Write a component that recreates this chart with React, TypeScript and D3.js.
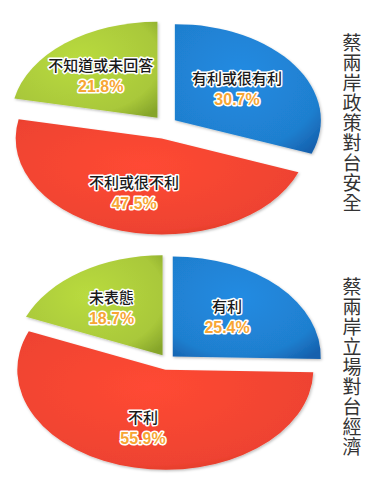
import React from "react";
import * as d3 from "d3";

const TOP_LABELS = ["有利或很有利", "不利或很不利", "不知道或未回答"];
const TOP_VALUES = [30.7, 47.5, 21.8];
const BOTTOM_LABELS = ["有利", "不利", "未表態"];
const BOTTOM_VALUES = [25.4, 55.9, 18.7];
const SLICE_COLORS = ["#1f7fcf", "#ee4330", "#a9c83a"];
const DARK_COLORS = ["#1560ad", "#c9301f", "#86a52a"];
const TITLES = ["蔡兩岸政策對台安全", "蔡兩岸立場對台經濟"];

const W = 373;
const H = 477;

const CHARTS = [
  { labels: TOP_LABELS, values: TOP_VALUES, title: TITLES[0], cx: 165, cy: 127, rx: 146, ry: 96, d: 12, titleY: 33 },
  { labels: BOTTOM_LABELS, values: BOTTOM_VALUES, title: TITLES[1], cx: 167, cy: 362, rx: 148, ry: 100, d: 8, titleY: 277 },
];

function Pie({ chart, idx }: { chart: (typeof CHARTS)[number]; idx: number }) {
  const pie = d3.pie<number>().sort(null).startAngle(0).endAngle(2 * Math.PI);
  const arcs = pie(chart.values);
  const arcGen = d3.arc<d3.PieArcDatum<number>>().innerRadius(0).outerRadius(chart.rx);
  const k = chart.ry / chart.rx;
  const fmt = d3.format(".1f");
  return (
    <g>
      {arcs.map((a, i) => {
        const mid = (a.startAngle + a.endAngle) / 2;
        const ox = chart.cx + chart.d * Math.sin(mid);
        const oy = chart.cy - chart.d * Math.cos(mid);
        return (
          <g key={i} transform={`translate(${ox},${oy}) scale(1,${k})`}>
            <path d={arcGen(a) || ""} fill={`url(#grad${i})`} filter="url(#shadow)" />
          </g>
        );
      })}
      {arcs.map((a, i) => {
        const mid = (a.startAngle + a.endAngle) / 2;
        const ox = chart.cx + chart.d * Math.sin(mid);
        const oy = chart.cy - chart.d * Math.cos(mid);
        const lx = ox + 0.56 * chart.rx * Math.sin(mid) - 5;
        const ly = oy - 0.58 * chart.ry * Math.cos(mid);
        return (
          <g key={"l" + i}>
            <text
              x={lx}
              y={ly - 4}
              textAnchor="middle"
              fontFamily="'Noto Sans CJK TC', 'Noto Sans', sans-serif"
              fontSize={15}
              fontWeight={500}
              fill="#1a1a1a"
              stroke="#ffffff"
              strokeWidth={3}
              strokeLinejoin="round"
              paintOrder="stroke"
            >
              {chart.labels[i]}
            </text>
            <text
              x={lx}
              y={ly + 17}
              textAnchor="middle"
              fontFamily="'Liberation Sans', Arial, sans-serif"
              fontSize={16}
              fontWeight={700}
              fill="#f7a634"
              stroke="#ffffff"
              strokeWidth={3}
              strokeLinejoin="round"
              paintOrder="stroke"
            >
              {fmt(a.data)}%
            </text>
          </g>
        );
      })}
      <text
        x={352}
        y={chart.titleY}
        fontFamily="'Noto Sans CJK TC', sans-serif"
        fontSize={19}
        fill="#333333"
        letterSpacing={1}
        style={{ writingMode: "vertical-rl" } as React.CSSProperties}
        textAnchor="start"
      >
        {chart.title}
      </text>
    </g>
  );
}

export default function App() {
  return (
    <svg
      width={W}
      height={H}
      viewBox={`0 0 ${W} ${H}`}
      style={{ position: "absolute", left: 0, top: 0, background: "#ffffff" }}
    >
      <defs>
        {SLICE_COLORS.map((c, i) => (
          <radialGradient key={i} id={`grad${i}`} cx="0.45" cy="0.4" r="0.75">
            <stop offset="0%" stopColor={d3.color(c)!.brighter(0.25).formatHex()} />
            <stop offset="75%" stopColor={c} />
            <stop offset="100%" stopColor={DARK_COLORS[i]} />
          </radialGradient>
        ))}
        <filter id="shadow" x="-10%" y="-10%" width="120%" height="130%">
          <feDropShadow dx="1" dy="2" stdDeviation="1.5" floodColor="#000" floodOpacity="0.25" />
        </filter>
      </defs>
      <rect width={W} height={H} fill="#ffffff" />
      {CHARTS.map((c, i) => (
        <Pie key={i} chart={c} idx={i} />
      ))}
    </svg>
  );
}
